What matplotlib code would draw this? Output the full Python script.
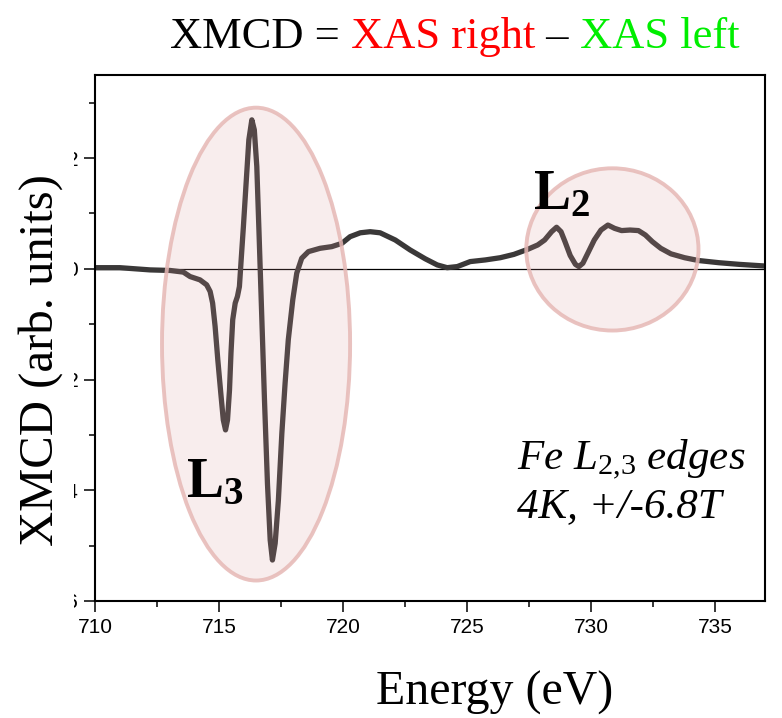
import matplotlib
matplotlib.use('Agg')
import matplotlib.pyplot as plt
from matplotlib.patches import Ellipse, Rectangle
from matplotlib.ticker import MultipleLocator

plt.rcParams['font.family'] = ['Liberation Serif', 'DejaVu Serif']
plt.rcParams['mathtext.fontset'] = 'custom'
plt.rcParams['mathtext.rm'] = 'Liberation Serif'
plt.rcParams['mathtext.it'] = 'Liberation Serif:italic'
plt.rcParams['mathtext.bf'] = 'Liberation Serif:bold'

# XMCD spectrum (energy in eV, signal in arb. units)
energie = [710.0, 711.0, 712.22, 713.02, 713.56, 713.83, 714.23, 714.5, 714.64, 714.74,
           714.84, 714.95, 715.07, 715.17, 715.26, 715.34, 715.42, 715.48, 715.55, 715.65,
           715.74, 715.82, 715.89, 715.98, 716.09, 716.2, 716.32, 716.42, 716.52, 716.61,
           716.72, 716.83, 716.95, 717.06, 717.15, 717.26, 717.39, 717.53, 717.66, 717.79,
           717.97, 718.13, 718.33, 718.6, 719.07, 719.54, 719.95, 720.28, 720.69, 721.09,
           721.49, 722.1, 722.7, 723.31, 723.79, 724.19, 724.6, 725.12, 725.73, 726.33,
           726.88, 727.43, 727.84, 728.12, 728.4, 728.6, 728.78, 728.94, 729.15, 729.36,
           729.5, 729.66, 729.88, 730.12, 730.39, 730.67, 730.94, 731.22, 731.56, 731.9,
           732.18, 732.46, 732.8, 733.21, 733.76, 734.31, 735.14, 735.96, 737.0]
xmcd = [0.02, 0.02, -0.02, -0.03, -0.06, -0.14, -0.2, -0.29, -0.41, -0.62,
        -1.04, -1.65, -2.25, -2.73, -2.91, -2.73, -2.19, -1.52, -0.92, -0.62,
        -0.5, -0.32, 0.16, 0.76, 1.55, 2.33, 2.69, 2.51, 1.85, 0.65,
        -0.86, -2.37, -3.88, -4.9, -5.26, -4.96, -4.18, -2.97, -2.07, -1.28,
        -0.56, -0.08, 0.19, 0.31, 0.37, 0.4, 0.46, 0.58, 0.65, 0.67,
        0.65, 0.52, 0.34, 0.18, 0.07, 0.02, 0.04, 0.13, 0.16, 0.2,
        0.26, 0.35, 0.43, 0.52, 0.67, 0.75, 0.67, 0.49, 0.24, 0.08,
        0.04, 0.1, 0.3, 0.52, 0.7, 0.79, 0.73, 0.69, 0.7, 0.69,
        0.61, 0.49, 0.37, 0.27, 0.2, 0.15, 0.11, 0.08, 0.05]

x_ticks = [710, 715, 720, 725, 730, 735]
y_ticks = [-6, -4, -2, 0, 2]

fig = plt.figure(figsize=(7.82, 7.18), dpi=100)
ax = fig.add_axes([95/782, 117/718, 670/782, 526/718])

ax.axhline(0, color='black', lw=0.9, zorder=1)
ax.plot(energie, xmcd, color='#3a3838', lw=3.8, solid_capstyle='round',
        solid_joinstyle='round', zorder=2)

# zvyraznene oblasti L3 a L2
for stred, sirka, vyska in [((716.49, -1.36), 7.58, 8.54), ((730.85, 0.35), 6.94, 2.93)]:
    ax.add_patch(Ellipse(stred, sirka, vyska, facecolor=(0.86, 0.6, 0.6, 0.17),
                         edgecolor=(0.9, 0.72, 0.71, 0.85), lw=2.8, zorder=3))

ax.text(713.67, -4.12, r'$\mathbf{L_3}$', fontsize=40, va='baseline', zorder=4)
ax.text(727.66, 1.07, r'$\mathbf{L_2}$', fontsize=40, va='baseline', zorder=4)
ax.text(727.0, -3.62, r'Fe L$_{\mathit{2{,}3}}$ edges', fontsize=31, style='italic', va='baseline')
ax.text(727.0, -4.48, '4K, +/-6.8T', fontsize=31, style='italic', va='baseline')

ax.set_xlim(710, 737)
ax.set_ylim(-6, 3.5)
ax.set_xticks(x_ticks)
ax.set_yticks(y_ticks)
ax.xaxis.set_minor_locator(MultipleLocator(2.5))
ax.yaxis.set_minor_locator(MultipleLocator(1))
ax.tick_params(which='major', length=8, width=1.1, direction='out')
ax.tick_params(which='minor', length=4.5, width=1.1, direction='out')
ax.tick_params(labelsize=15, pad=4)
for lbl in ax.get_xticklabels() + ax.get_yticklabels():
    lbl.set_family(['Liberation Sans Narrow', 'Liberation Sans'])
for sp in ax.spines.values():
    sp.set_linewidth(1.5)

# bila plocha prekryva leve casti popisku osy y
fig.patches.append(Rectangle((0, 0.1), 74/782, 0.8, transform=fig.transFigure,
                             facecolor='white', edgecolor='none', zorder=5))
fig.text(41/782, (718-360)/718, 'XMCD (arb. units)', rotation=90, fontsize=35,
         ha='center', va='center', zorder=6)
fig.text(495/782, (718-705)/718, 'Energy (eV)', fontsize=34.5, ha='center', va='baseline')

# nadpis slozeny z barevnych casti
casti = [('XMCD =', 'black'), (' XAS right', '#ff0000'), (' \u2013', 'black'), (' XAS left', '#00ee00')]
prev = fig.text(170/782, (718-48)/718, casti[0][0], color=casti[0][1], fontsize=32, va='baseline')
for txt, barva in casti[1:]:
    prev = plt.annotate(txt, xy=(1, 0), xycoords=prev, va='bottom', color=barva, fontsize=32,
                        annotation_clip=False)

fig.savefig('out.png', dpi=100)
